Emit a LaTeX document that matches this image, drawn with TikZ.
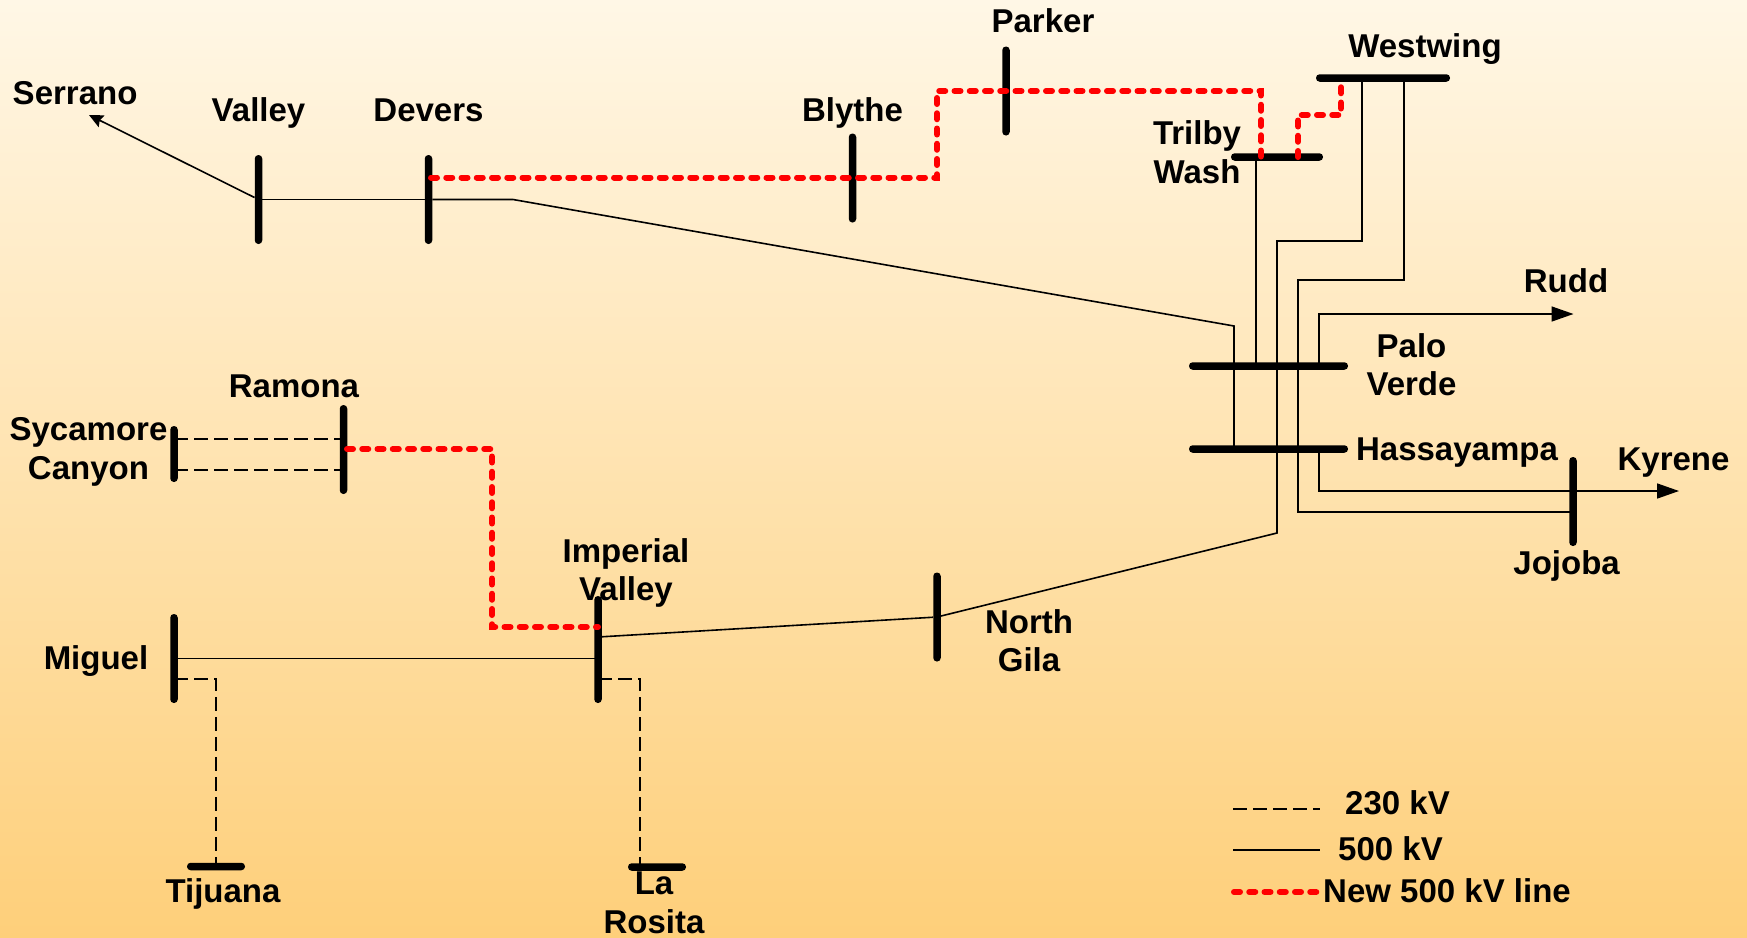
\documentclass[tikz,border=0pt]{standalone}
\usepackage{fontspec}
\usepackage{xcolor}
\usepackage{tikz}
\usetikzlibrary{arrows.meta,positioning}
\setmainfont{Liberation Sans}
\definecolor{skytop}{HTML}{FFF7E6}
\definecolor{skybottom}{HTML}{FECF7A}

\begin{document}
\begin{tikzpicture}[x=1pt, y=-1pt, on grid,
    vbus/.style={rectangle, fill=black, rounded corners=3.6pt, inner sep=0pt, minimum width=7.5pt, minimum height=#1},
    hbus/.style={rectangle, fill=black, rounded corners=3.6pt, inner sep=0pt, minimum height=7.5pt, minimum width=#1},
    lbl/.style={inner sep=0pt, align=center, font=\bfseries\fontsize{33}{38.5}\selectfont},
    kv230/.style={draw, line width=2.6pt, dash pattern=on 13.5pt off 6.5pt},
    kv500/.style={draw, line width=1.6pt},
    newline/.style={draw=red, line width=6pt, line cap=round, dash pattern=on 6pt off 9.25pt},
    big/.style={-{Triangle[length=22pt,width=15pt]}},
    small/.style={-{Stealth[length=14pt,width=13pt,inset=2pt]}}]

    \useasboundingbox (0,0) rectangle (1747,937);
    \shade [top color=skytop, bottom color=skybottom] (0,0) rectangle (1747,937);

    \node [vbus=89pt] (valley) at (258.5,199.5) {};
    \node [vbus=89pt, right=170pt of valley] (devers) {};
    \node [vbus=89pt, above right=21.5pt and 424pt of devers] (blythe) {};
    \node [vbus=89pt, above right=87pt and 153.5pt of blythe] (parker) {};
    \node [hbus=134pt, above right=13pt and 377pt of parker] (westwing) {};
    \node [hbus=92pt, below left=79pt and 106pt of westwing] (trilby) {};
    \node [hbus=159pt, below left=209pt and 8.5pt of trilby] (paloverde) {};
    \node [hbus=159pt, below=83pt of paloverde] (hassayampa) {};
    \node [vbus=89pt, below right=52.5pt and 304.5pt of hassayampa] (jojoba) {};

    \node [vbus=89pt] (miguel) at (174,658.5) {};
    \node [vbus=107pt, above right=9pt and 424pt of miguel] (imperial) {};
    \node [vbus=89pt, above right=32.5pt and 339pt of imperial] (northgila) {};
    \node [vbus=89pt, above right=209pt and 169.5pt of miguel] (ramona) {};
    \node [vbus=56pt, below left=4.5pt and 169.5pt of ramona] (sycamore) {};
    \node [hbus=58pt, below right=208pt and 42pt of miguel] (tijuana) {};
    \node [hbus=58pt, below right=217.5pt and 59pt of imperial] (larosita) {};

    \node [lbl, above=87pt of valley] (valleytxt) {Valley};
    \node [lbl, above=89.5pt of devers] (deverstxt) {Devers};
    \node [lbl, above=65.5pt of blythe] (blythetxt) {Blythe};
    \node [lbl, above right=70pt and 37pt of parker] (parkertxt) {Parker};
    \node [lbl, above right=29pt and 42pt of westwing] (westwingtxt) {Westwing};
    \node [lbl, above left=5pt and 80pt of trilby] (trilbytxt) {Trilby\\Wash};
    \node [lbl, above right=1.5pt and 143pt of paloverde] (paloverdetxt) {Palo\\Verde};
    \node [lbl, below right=3.5pt and 188.5pt of hassayampa] (hassayampatxt) {Hassayampa};
    \node [lbl, below left=64pt and 6.4pt of jojoba] (jojobatxt) {Jojoba};
    \node [lbl, above left=106pt and 183.4pt of valley] (serranotxt) {Serrano};
    \node [lbl, above left=63pt and 49.5pt of ramona] (ramonatxt) {Ramona};
    \node [lbl, above left=2pt and 85.5pt of sycamore] (sycamoretxt) {Sycamore\\Canyon};
    \node [lbl, above right=76.5pt and 28pt of imperial] (imperialtxt) {Imperial\\Valley};
    \node [lbl, below left=2.5pt and 78pt of miguel] (migueltxt) {Miguel};
    \node [lbl, below right=23.5pt and 92pt of northgila] (northgilatxt) {North\\Gila};
    \node [lbl, below right=27pt and 7pt of tijuana] (tijuanatxt) {Tijuana};
    \node [lbl, below left=36pt and 3pt of larosita] (larositatxt) {La\\Rosita};
    \node [lbl, above left=221pt and 7pt of jojoba] (ruddtxt) {Rudd};
    \node [lbl, above right=39pt and 100.5pt of jojoba] (kyrenetxt) {Kyrene};

    \coordinate (serranotip) at (89,115);
    \coordinate (ruddtip) at (1573.5,314);
    \coordinate (kyrenetip) at (1679,491);

    \coordinate (deversbend) at (513,199.5);
    \coordinate (palobend) at (1234,326);
    \coordinate (trilbytap) at (1256,157);
    \coordinate (wwtapa) at (1362,78);
    \coordinate (wwbenda) at (1362,241);
    \coordinate (wwdowna) at (1277,241);
    \coordinate (gilabend) at (1277,533);
    \coordinate (wwtapb) at (1404,78);
    \coordinate (wwbendb) at (1404,280);
    \coordinate (wwdownb) at (1298,280);
    \coordinate (jojobabend) at (1298,512);
    \coordinate (ruddbend) at (1319,314);
    \coordinate (imperialtap) at (598,637);

    \draw [small, kv500] (valley) -- (serranotip);
    \draw [kv500] (valley) -- (devers);
    \draw [kv500] (devers) -- (deversbend) -- (palobend) -- (palobend |- hassayampa);
    \draw [kv500] (trilbytap) -- (trilbytap |- paloverde);
    \draw [kv500] (wwtapa) -- (wwbenda) -- (wwdowna) -- (gilabend) -- (northgila);
    \draw [kv500] (wwtapb) -- (wwbendb) -- (wwdownb) -- (jojobabend) -- (jojobabend -| jojoba);
    \draw [big, kv500] (ruddbend |- paloverde) -- (ruddbend) -- (ruddtip);
    \draw [big, kv500] (ruddbend |- hassayampa) -- (ruddbend |- kyrenetip) -- (kyrenetip);
    \draw [kv500] (miguel) -- (miguel -| imperial);
    \draw [kv500] (imperialtap) -- (northgila);

    \coordinate (sycamoretapa) at (174,439);
    \coordinate (sycamoretapb) at (174,470);
    \coordinate (migueltap) at (174,679);
    \coordinate (imperialdash) at (598,679);
    \coordinate (larositabend) at (640,679);
    \draw [kv230] (sycamoretapa) -- (sycamoretapa -| ramona);
    \draw [kv230] (sycamoretapb) -- (sycamoretapb -| ramona);
    \draw [kv230] (migueltap) -- (migueltap -| tijuana) -- (tijuana);
    \draw [kv230] (imperialdash) -- (larositabend) -- (larositabend |- larosita);

    \coordinate (deverstap) at (431,177.5);
    \coordinate (blythetap) at (937,177.5);
    \coordinate (parkerbend) at (937,91);
    \coordinate (trilbybend) at (1261,91);
    \coordinate (ramonatap) at (347,449);
    \coordinate (ramonabend) at (492,449);
    \coordinate (imperialbend) at (492,627);
    \coordinate (wwstub) at (1341,85);
    \coordinate (wwstep) at (1341,115);
    \coordinate (trilbystep) at (1298,115);
    \draw [newline] (deverstap) -- (blythetap) -- (parkerbend) -- (trilbybend) -- (trilbybend |- trilby);
    \draw [newline] (trilbystep |- trilby) -- (trilbystep) -- (wwstep) -- (wwstub);
    \draw [newline] (ramonatap) -- (ramonabend) -- (imperialbend) -- (imperialbend -| imperial);

    \coordinate (keya) at (1233,809);
    \coordinate (keyaend) at (1320,809);
    \coordinate (keyb) at (1233,850);
    \coordinate (keybend) at (1320,850);
    \coordinate (keyc) at (1234,892);
    \coordinate (keycend) at (1318,892);
    \draw [kv230] (keya) -- (keyaend);
    \draw [kv500] (keyb) -- (keybend);
    \draw [newline] (keyc) -- (keycend);
    \node [lbl, anchor=west] (keyatxt) at (1345,803) {230 kV};
    \node [lbl, anchor=west] (keybtxt) at (1338,849) {500 kV};
    \node [lbl, anchor=west] (keyctxt) at (1323,891) {New 500 kV line};
\end{tikzpicture}
\end{document}
